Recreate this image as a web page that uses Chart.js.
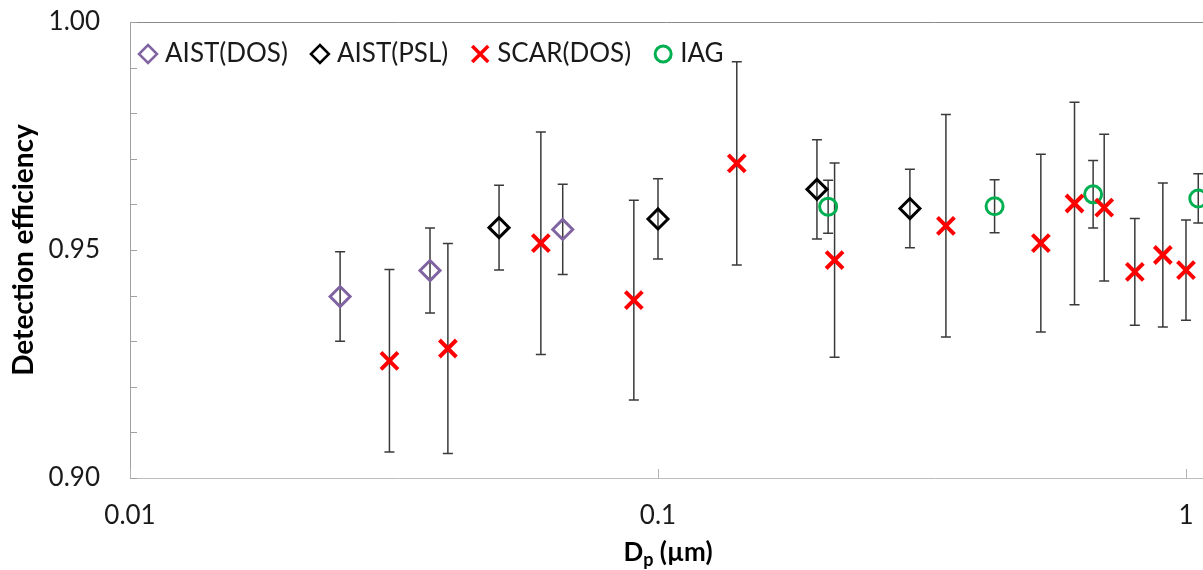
<!DOCTYPE html>
<html>
<head>
<meta charset="utf-8">
<script src="https://cdn.jsdelivr.net/npm/chart.js@4/dist/chart.umd.min.js"></script>
<style>
  html, body { margin: 0; padding: 0; background: #fff; }
  #wrap { width: 1203px; height: 570px; }
</style>
</head>
<body>
<div id="wrap"><canvas id="de-chart" width="1203" height="570"></canvas></div>
<script>
// particle diameter (um), detection efficiency, +/- error
const aistDosX = [0.025, 0.037, 0.066];
const aistDosY = [0.9398, 0.9455, 0.9545];
const aistDosErr = [0.0098, 0.0093, 0.0099];

const aistPslX = [0.05, 0.1, 0.2, 0.3];
const aistPslY = [0.9549, 0.9568, 0.9633, 0.9591];
const aistPslErr = [0.0093, 0.0088, 0.0109, 0.0086];

const scarX = [0.031, 0.040, 0.060, 0.090, 0.141, 0.216, 0.351, 0.531, 0.615, 0.700, 0.80, 0.904, 1.0];
const scarY = [0.9257, 0.9284, 0.9515, 0.9390, 0.9690, 0.9478, 0.9553, 0.9515, 0.9602, 0.9593, 0.9452, 0.9489, 0.9456];
const scarErr = [0.0200, 0.0230, 0.0244, 0.0219, 0.0223, 0.0213, 0.0244, 0.0195, 0.0222, 0.0161, 0.0117, 0.0158, 0.0110];

const iagX = [0.21, 0.434, 0.667, 1.055];
const iagY = [0.9595, 0.9596, 0.9622, 0.9613];
const iagErr = [0.0058, 0.0058, 0.0074, 0.0054];

const xMajorTicks = [0.01, 0.1, 1];
const yTickLabels = ['0.90', '0.95', '1.00'];

const FONT = 'Lato, "Open Sans", sans-serif';
const colors = {
  purple: '#8064a2',
  black: '#000000',
  red: '#ff0000',
  green: '#00b050',
  bar: '#3a3a3a'
};

const toPoints = (xs, ys) => xs.map((x, i) => ({ x: x, y: ys[i] }));

// no extra room for overflowing tick labels
const noPad = scale => {
  scale.paddingTop = 0;
  scale.paddingBottom = 0;
  scale.paddingLeft = 0;
  scale.paddingRight = 0;
};

// error bars drawn under the markers
const errorBars = {
  id: 'errorBars',
  beforeDatasetsDraw(chart) {
    const ctx = chart.ctx;
    const xs = chart.scales.x, ys = chart.scales.y;
    ctx.save();
    ctx.strokeStyle = colors.bar;
    ctx.lineWidth = 1.5;
    chart.data.datasets.forEach(ds => {
      ds.data.forEach((p, j) => {
        const e = ds.errors[j];
        const px = xs.getPixelForValue(p.x);
        const top = ys.getPixelForValue(p.y + e);
        const bot = ys.getPixelForValue(p.y - e);
        ctx.beginPath();
        ctx.moveTo(px, top); ctx.lineTo(px, bot);
        ctx.moveTo(px - 5, top); ctx.lineTo(px + 5, top);
        ctx.moveTo(px - 5, bot); ctx.lineTo(px + 5, bot);
        ctx.stroke();
      });
    });
    ctx.restore();
  }
};

function marker(ctx, style, color, x, y) {
  ctx.save();
  ctx.strokeStyle = color;
  ctx.beginPath();
  if (style === 'rectRot') {
    ctx.lineWidth = 2.5;
    ctx.moveTo(x, y - 9); ctx.lineTo(x + 9, y); ctx.lineTo(x, y + 9); ctx.lineTo(x - 9, y);
    ctx.closePath();
  } else if (style === 'crossRot') {
    ctx.lineWidth = 3.5;
    ctx.moveTo(x - 8, y - 8); ctx.lineTo(x + 8, y + 8);
    ctx.moveTo(x + 8, y - 8); ctx.lineTo(x - 8, y + 8);
  } else {
    ctx.lineWidth = 3;
    ctx.arc(x, y, 8, 0, Math.PI * 2);
  }
  ctx.stroke();
  ctx.restore();
}

// frame lines, inward ticks, legend and axis titles
const decorations = {
  id: 'decorations',
  afterDraw(chart) {
    const ctx = chart.ctx;
    const a = chart.chartArea;
    const xs = chart.scales.x, ys = chart.scales.y;
    ctx.save();

    ctx.lineWidth = 1;
    ctx.strokeStyle = '#8a8a8a';
    ctx.beginPath();
    ctx.moveTo(a.left, a.top + 0.5); ctx.lineTo(a.right, a.top + 0.5);
    ctx.stroke();

    // y ticks every 0.01
    ctx.strokeStyle = '#a0a0a0';
    ctx.beginPath();
    for (let i = 0; i <= 10; i++) {
      const py = Math.round(ys.getPixelForValue(0.9 + i * 0.01)) + 0.5;
      ctx.moveTo(a.left, py); ctx.lineTo(a.left + 7, py);
    }
    ctx.stroke();

    // x log ticks
    ctx.strokeStyle = '#b4b4b4';
    ctx.beginPath();
    xs.ticks.forEach(t => {
      const px = Math.round(xs.getPixelForValue(t.value)) + 0.5;
      const len = xMajorTicks.includes(t.value) ? 9 : 7;
      ctx.moveTo(px, a.bottom); ctx.lineTo(px, a.bottom - len);
    });
    ctx.stroke();

    // legend inside plot
    ctx.font = '26px ' + FONT;
    ctx.fillStyle = '#1a1a1a';
    ctx.textBaseline = 'middle';
    ctx.textAlign = 'left';
    let lx = a.left + 18;
    const ly = 54;
    chart.data.datasets.forEach(ds => {
      marker(ctx, ds.pointStyle, ds.borderColor, lx, ly);
      ctx.fillText(ds.label, lx + 17, ly);
      lx += 17 + ctx.measureText(ds.label).width + 32;
    });

    // y title
    ctx.save();
    ctx.translate(24, 250);
    ctx.rotate(-Math.PI / 2);
    ctx.font = 'bold 28px ' + FONT;
    ctx.textAlign = 'center';
    ctx.fillStyle = '#000';
    ctx.fillText('Detection efficiency', 0, 0);
    ctx.restore();

    // x title with subscript
    ctx.fillStyle = '#000';
    ctx.textBaseline = 'alphabetic';
    const big = 'bold 26px ' + FONT, small = 'bold 18px ' + FONT;
    ctx.font = big; const wD = ctx.measureText('D').width;
    const wRest = ctx.measureText(' (\u00b5m)').width;
    ctx.font = small; const wp = ctx.measureText('p').width;
    let tx = 668 - (wD + wp + wRest) / 2;
    const ty = 561;
    ctx.font = big; ctx.fillText('D', tx, ty); tx += wD;
    ctx.font = small; ctx.fillText('p', tx, ty + 5); tx += wp;
    ctx.font = big; ctx.fillText(' (\u00b5m)', tx, ty);

    ctx.restore();
  }
};

new Chart(document.getElementById('de-chart'), {
  type: 'scatter',
  data: {
    datasets: [
      {
        label: 'AIST(DOS)',
        data: toPoints(aistDosX, aistDosY),
        errors: aistDosErr,
        pointStyle: 'rectRot',
        pointRadius: 10,
        pointBorderWidth: 3,
        borderColor: colors.purple,
        backgroundColor: 'rgba(0,0,0,0)'
      },
      {
        label: 'AIST(PSL)',
        data: toPoints(aistPslX, aistPslY),
        errors: aistPslErr,
        pointStyle: 'rectRot',
        pointRadius: 10,
        pointBorderWidth: 3,
        borderColor: colors.black,
        backgroundColor: 'rgba(0,0,0,0)'
      },
      {
        label: 'SCAR(DOS)',
        data: toPoints(scarX, scarY),
        errors: scarErr,
        pointStyle: 'crossRot',
        pointRadius: 12,
        pointBorderWidth: 4,
        borderColor: colors.red,
        backgroundColor: 'rgba(0,0,0,0)'
      },
      {
        label: 'IAG',
        data: toPoints(iagX, iagY),
        errors: iagErr,
        pointStyle: 'circle',
        pointRadius: 8.5,
        pointBorderWidth: 3,
        borderColor: colors.green,
        backgroundColor: 'rgba(0,0,0,0)'
      }
    ]
  },
  options: {
    responsive: false,
    animation: false,
    devicePixelRatio: 1,
    layout: { autoPadding: false, padding: { top: 22, right: 0, left: 0, bottom: 0 } },
    plugins: {
      legend: { display: false },
      tooltip: { enabled: false }
    },
    scales: {
      x: {
        type: 'logarithmic',
        min: 0.01,
        max: 1.077,
        afterFit: scale => { scale.height = 92; noPad(scale); },
        border: { display: true, color: '#bdbdbd', width: 1 },
        grid: { drawOnChartArea: false, drawTicks: false },
        ticks: {
          autoSkip: false,
          maxRotation: 0,
          padding: 22,
          color: '#1a1a1a',
          font: { family: FONT, size: 26 },
          callback: v => xMajorTicks.includes(v) ? String(v) : null
        }
      },
      y: {
        min: 0.9,
        max: 1.0,
        afterFit: scale => { scale.width = 130; noPad(scale); },
        border: { display: true, color: '#a0a0a0', width: 1 },
        grid: { drawOnChartArea: false, drawTicks: false },
        ticks: {
          stepSize: 0.05,
          padding: 30,
          color: '#1a1a1a',
          font: { family: FONT, size: 26 },
          callback: (v, i) => yTickLabels[i]
        }
      }
    }
  },
  plugins: [errorBars, decorations]
});
</script>
</body>
</html>
